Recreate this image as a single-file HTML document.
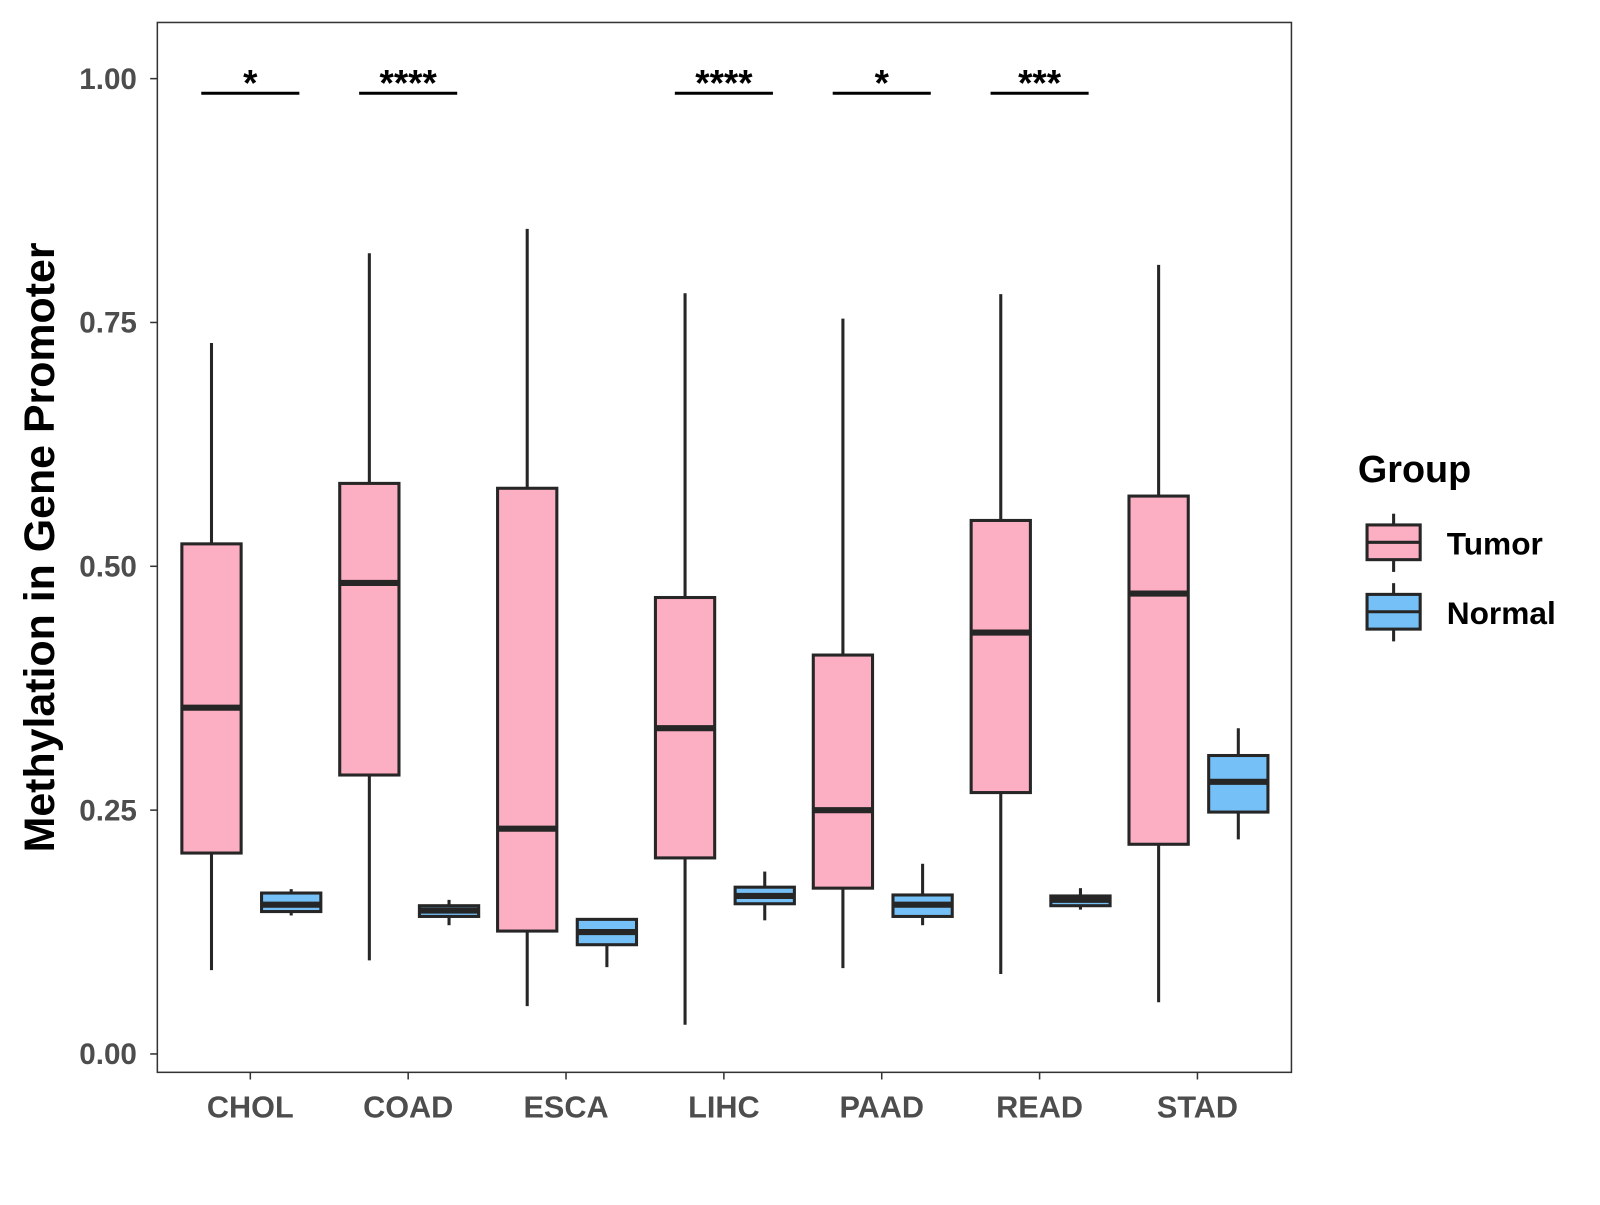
<!DOCTYPE html>
<html><head><meta charset="utf-8"><style>
body{margin:0;background:#fff}
svg text{font-family:"Liberation Sans",Arial,sans-serif;font-weight:bold}
</style></head><body>
<svg id="chart" width="1600" height="1200" viewBox="0 0 1566 1175" preserveAspectRatio="none" xmlns="http://www.w3.org/2000/svg">
<rect x="0" y="0" width="1566" height="1175" fill="#fff"/>
<g id="marks"></g>
<rect x="154" y="22" width="1110" height="1028" fill="none" stroke="#333" stroke-width="1.5"/>
<text transform="translate(53,536) rotate(-90)" text-anchor="middle" font-size="42" fill="#000">Methylation in Gene Promoter</text>
<text x="1329" y="472" font-size="37" fill="#000">Group</text>
<g>
<line x1="1364" y1="503" x2="1364" y2="560" stroke="#262626" stroke-width="3"/>
<rect x="1338" y="514" width="52" height="34" fill="#FCAFC2" stroke="#262626" stroke-width="3"/>
<line x1="1338" y1="531" x2="1390" y2="531" stroke="#262626" stroke-width="3"/>
<text x="1416" y="543" font-size="31" fill="#000">Tumor</text>
</g>
<g>
<line x1="1364" y1="571" x2="1364" y2="628" stroke="#262626" stroke-width="3"/>
<rect x="1338" y="582" width="52" height="34" fill="#75C1F7" stroke="#262626" stroke-width="3"/>
<line x1="1338" y1="599" x2="1390" y2="599" stroke="#262626" stroke-width="3"/>
<text x="1416" y="611" font-size="31" fill="#000">Normal</text>
</g>
</svg>
<script>
const categories=["CHOL","COAD","ESCA","LIHC","PAAD","READ","STAD"];
const tumorStats=[
[0.086,0.206,0.355,0.523,0.729],
[0.096,0.286,0.483,0.585,0.821],
[0.049,0.126,0.231,0.580,0.846],
[0.030,0.201,0.334,0.468,0.780],
[0.088,0.170,0.250,0.409,0.754],
[0.082,0.268,0.432,0.547,0.779],
[0.053,0.215,0.472,0.572,0.809]];
const normalStats=[
[0.142,0.146,0.153,0.165,0.169],
[0.132,0.141,0.147,0.152,0.158],
[0.089,0.112,0.125,0.138,0.138],
[0.137,0.154,0.162,0.171,0.187],
[0.132,0.141,0.153,0.163,0.195],
[0.148,0.152,0.158,0.162,0.170],
[0.220,0.248,0.279,0.306,0.334]];
const signif=["*","****","","****","*","***",""];
const yTicks=[0,0.25,0.5,0.75,1.0];
const yTickLabels=["0.00","0.25","0.50","0.75","1.00"];
const signifLevel=0.985;

const NS="http://www.w3.org/2000/svg";
const g=document.getElementById('marks');
const svg=document.getElementById('chart');
function y(v){return 1032-v*955;}
function x(i){return 245+i*154.5;}
function mk(tag,attrs,parent){const e=document.createElementNS(NS,tag);for(const k in attrs)e.setAttribute(k,attrs[k]);(parent||g).appendChild(e);return e;}

yTicks.forEach((t,i)=>{
  const tk=mk('line',{x1:147,x2:154,y1:y(t),y2:y(t),stroke:'#333','stroke-width':1.5},svg);
  
  
  const lb=mk('text',{x:134,y:y(t)+10,'text-anchor':'end','font-size':29,fill:'#4d4d4d'},svg);
  lb.textContent=yTickLabels[i];
  
  
});
categories.forEach((c,i)=>{
  const tk=mk('line',{x1:x(i),x2:x(i),y1:1050,y2:1057,stroke:'#333','stroke-width':1.5},svg);
  
  
  const lb=mk('text',{x:x(i),y:1094,'text-anchor':'middle','font-size':30,fill:'#4d4d4d'},svg);
  lb.textContent=c;
  
  
});
function box(cx,s,fill,name){
  const grp=mk('g',{});
  
  
  mk('line',{x1:cx,x2:cx,y1:y(s[0]),y2:y(s[4]),stroke:'#262626','stroke-width':3},grp);
  mk('rect',{x:cx-29,y:y(s[3]),width:58,height:y(s[1])-y(s[3]),fill:fill,stroke:'#262626','stroke-width':3},grp);
  mk('line',{x1:cx-29,x2:cx+29,y1:y(s[2]),y2:y(s[2]),stroke:'#262626','stroke-width':6},grp);
}
categories.forEach((c,i)=>{
  box(x(i)-38,tumorStats[i],'#FCAFC2','box-tumor-'+c.toLowerCase());
  box(x(i)+40,normalStats[i],'#75C1F7','box-normal-'+c.toLowerCase());
  if(signif[i]){
    const b=mk('line',{x1:x(i)-48,x2:x(i)+48,y1:y(signifLevel),y2:y(signifLevel),stroke:'#000','stroke-width':3});
    
    
    const t=mk('text',{x:x(i),y:y(signifLevel)+2,'text-anchor':'middle','font-size':36,fill:'#000'});
    t.textContent=signif[i];
    
    
  }
});
</script>
</body></html>
